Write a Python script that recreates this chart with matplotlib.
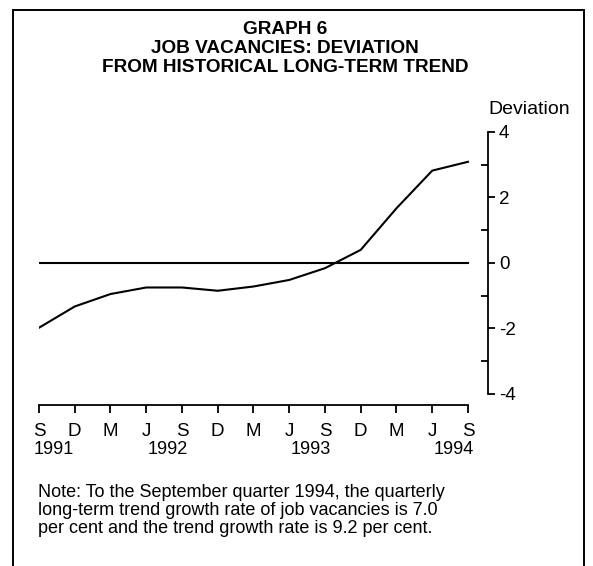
import matplotlib
matplotlib.use("Agg")
import matplotlib.pyplot as plt
import matplotlib.transforms as mtransforms
from matplotlib.patches import Rectangle
from matplotlib.ticker import MultipleLocator

# Quarterly deviation of job vacancies from long-term trend
quarters = ['S', 'D', 'M', 'J', 'S', 'D', 'M', 'J', 'S', 'D', 'M', 'J', 'S']
deviation = [-1.98, -1.33, -0.95, -0.75, -0.75, -0.85, -0.72, -0.52, -0.16,
             0.40, 1.67, 2.82, 3.09]
year_labels = ['1991', '1992', '1993', '1994']
year_index = [0, 4, 8, 12]

title = "GRAPH 6\nJOB VACANCIES: DEVIATION\nFROM HISTORICAL LONG-TERM TREND"
note = ("Note: To the September quarter 1994, the quarterly\n"
        "long-term trend growth rate of job vacancies is 7.0\n"
        "per cent and the trend growth rate is 9.2 per cent.")

plt.rcParams['font.family'] = ['Liberation Sans', 'DejaVu Sans']

W, H = 593, 566
fig = plt.figure(figsize=(W / 100, H / 100), dpi=100)

# outer frame (open at the bottom, like the scanned page)
frame = Rectangle((13 / W, -0.05), (584 - 13) / W, (H - 10) / H + 0.05,
                  transform=fig.transFigure, fill=False, lw=1.4, color='black')
fig.patches.append(frame)

fig.text(285 / W, 1 - 21 / H, title, ha='center', va='top', fontsize=13.7,
         fontweight='bold', linespacing=1.15)

ax = fig.add_axes([39 / W, (H - 405) / H, (488 - 39) / W, (405 - 132) / H])
x = list(range(len(quarters)))
ax.plot(x, deviation, color='black', lw=1.5)
ax.plot([x[0], x[-1]], [0, 0], color='black', lw=1.5)

ax.set_xlim(0, 12.56)
ax.set_ylim(-4.34, 4)

for side in ['top', 'left']:
    ax.spines[side].set_visible(False)
ax.spines['right'].set_bounds(-4, 4)
ax.spines['bottom'].set_bounds(0, 12)
ax.spines['right'].set_linewidth(1.3)
ax.spines['bottom'].set_linewidth(1.3)

ax.yaxis.tick_right()
ax.yaxis.set_minor_locator(MultipleLocator(1))
ax.set_yticks([-4, -2, 0, 2, 4])
ax.set_yticklabels(['-4', '-2', '0', '2', '4'])
ax.tick_params(axis='y', which='major', direction='out', length=5, width=1.3,
               labelsize=13.5, pad=3)
ax.tick_params(axis='y', which='minor', direction='in', length=5, width=1.3)

ax.set_xticks(x)
ax.set_xticklabels(quarters)
ax.tick_params(axis='x', direction='out', length=6, width=1.3, labelsize=13.5,
               pad=7)

# year labels under the September quarters
trans = mtransforms.blended_transform_factory(ax.transData, fig.transFigure)
for lab, i in zip(year_labels, year_index):
    if i == 0:
        ax.text(i - 0.15, 1 - 450 / H, lab, transform=trans, ha='left',
                va='center', fontsize=13)
    else:
        ax.text(i + 0.17, 1 - 450 / H, lab, transform=trans, ha='right',
                va='center', fontsize=13)

fig.text(529 / W, 1 - 110 / H, "Deviation", ha='center', va='center',
         fontsize=14)

fig.text(38 / W, 1 - 484 / H, note, ha='left', va='top', fontsize=13,
         linespacing=1.07)

fig.savefig("out.png", dpi=100)
